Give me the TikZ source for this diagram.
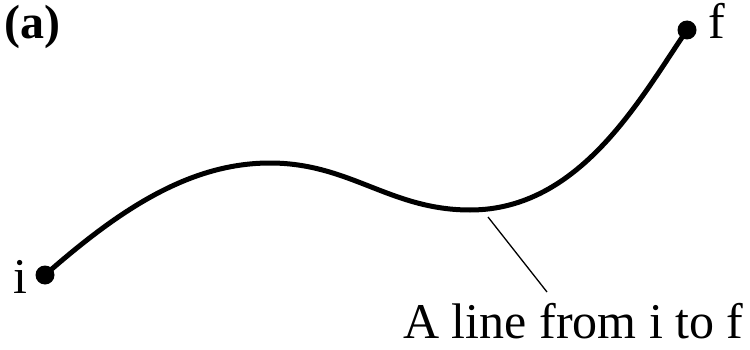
\documentclass[tikz,border=0pt]{standalone}
\usepackage{fontspec}
\setmainfont{Liberation Serif}
\begin{document}
\begin{tikzpicture}[x=1pt,y=1pt,
  lbl/.style={inner sep=0pt,anchor=base west,font=\fontsize{50}{60}\selectfont},
  endpt/.style={circle,fill=black,inner sep=0pt,minimum size=19pt},
  worldline/.style={line width=5pt,line cap=round},
  leader/.style={line width=1.3pt}]
\useasboundingbox (0,0) rectangle (750,349);
\node[lbl,font=\fontsize{48}{58}\selectfont\bfseries] (tag) at (4,310) {(a)};
\node[endpt] (i) at (45,74) {};
\node[endpt] (f) at (687,319) {};
\node[lbl] (ilab) at (13,56) {i};
\node[lbl] (flab) at (708,310) {f};
\draw[worldline] (i.center) .. controls (120,140) and (190,186) .. (270,186)
  .. controls (350,186) and (390,139) .. (470,139)
  .. controls (580,139) and (640,250) .. (f.center);
\coordinate (onpath) at (488,132);
\node[lbl,anchor=base] (txt) at (573.5,11) {A line from i to f};
\coordinate (leadend) at (547,57);
\draw[leader] (onpath) -- (leadend);
\end{tikzpicture}
\end{document}
